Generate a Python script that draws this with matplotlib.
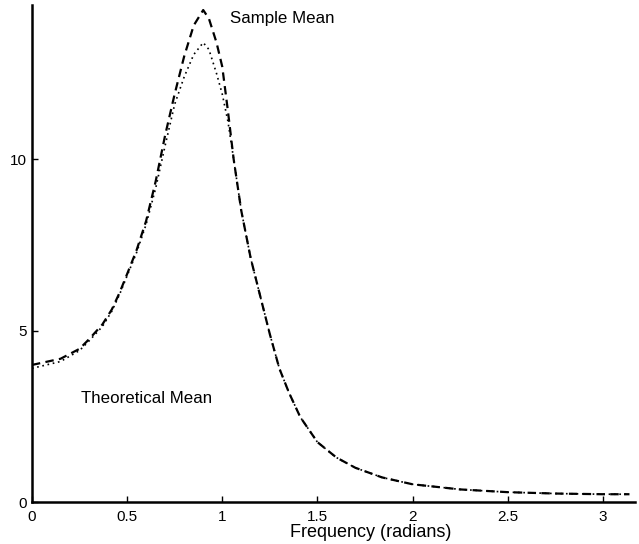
import matplotlib
matplotlib.use("Agg")
from matplotlib import pyplot as plt
import numpy as np

# values
freq_sample = [0, 0.15, 0.25, 0.30, 0.37, 0.42, 0.46, 0.50, 0.55, 0.60, 0.65, 0.70, 0.75,
               0.80, 0.85, 0.90, 0.93, 0.97, 1.00, 1.03, 1.06, 1.10, 1.15, 1.20, 1.25,
               1.30, 1.35, 1.41, 1.50, 1.60, 1.70, 1.84, 2.00, 2.25, 2.50, 2.75, 3.00, 3.14]
sample_mean = [4.0, 4.18, 4.47, 4.75, 5.18, 5.62, 6.1, 6.65, 7.35, 8.2, 9.35, 10.7, 11.9,
               13.0, 13.9, 14.35, 14.1, 13.4, 12.7, 11.4, 10.0, 8.5, 7.1, 6.0, 4.9,
               3.9, 3.2, 2.48, 1.75, 1.3, 1.0, 0.72, 0.52, 0.37, 0.29, 0.25, 0.23, 0.23]

freq_theory = [0, 0.15, 0.25, 0.30, 0.37, 0.42, 0.46, 0.50, 0.55, 0.60, 0.65, 0.70, 0.75,
               0.80, 0.85, 0.90, 0.93, 0.97, 1.00, 1.03, 1.06, 1.10, 1.15, 1.20, 1.25,
               1.30, 1.35, 1.41, 1.50, 1.60, 1.70, 1.84, 2.00, 2.25, 2.50, 2.75, 3.00, 3.14]
theory_mean = [3.9, 4.1, 4.42, 4.7, 5.12, 5.57, 6.05, 6.6, 7.28, 8.1, 9.15, 10.4, 11.6,
               12.4, 13.05, 13.4, 13.2, 12.5, 11.9, 11.1, 10.0, 8.5, 7.1, 6.0, 4.9,
               3.9, 3.2, 2.48, 1.75, 1.3, 1.0, 0.72, 0.52, 0.37, 0.29, 0.25, 0.23, 0.23]

xticks = [0, 0.5, 1, 1.5, 2, 2.5, 3]
xticklabels = ["0", "0.5", "1", "1.5", "2", "2.5", "3"]
yticks = [0, 5, 10]

plt.rcParams['font.family'] = ['Liberation Sans', 'DejaVu Sans']

fig = plt.figure(figsize=(6.39, 5.44), dpi=100)
ax = fig.add_axes([0.05, 0.077, 0.944, 0.914])

ax.plot(freq_sample, sample_mean, color='black', lw=1.6, dashes=(3.8, 2.4))
ax.plot(freq_theory, theory_mean, color='black', lw=1.2, dashes=(1, 2.2))

ax.text(1.04, 14.1, "Sample Mean", fontsize=12.2, va='center', ha='left')
ax.text(0.26, 3.03, "Theoretical Mean", fontsize=12.2, va='center', ha='left')

ax.set_xlim(0, 3.17)
ax.set_ylim(0, 14.5)
ax.set_xticks(xticks)
ax.set_xticklabels(xticklabels)
ax.set_yticks(yticks)
ax.set_xlabel("Frequency (radians)", fontsize=13)
ax.xaxis.set_label_coords(0.562, -0.045)

for s in ['top', 'right']:
    ax.spines[s].set_visible(False)
for s in ['left', 'bottom']:
    ax.spines[s].set_linewidth(1.8)
ax.tick_params(direction='in', length=4, width=1, labelsize=11)
ax.tick_params(axis='x', pad=6)
ax.tick_params(axis='y', pad=4)

fig.savefig('out.png', dpi=100)
